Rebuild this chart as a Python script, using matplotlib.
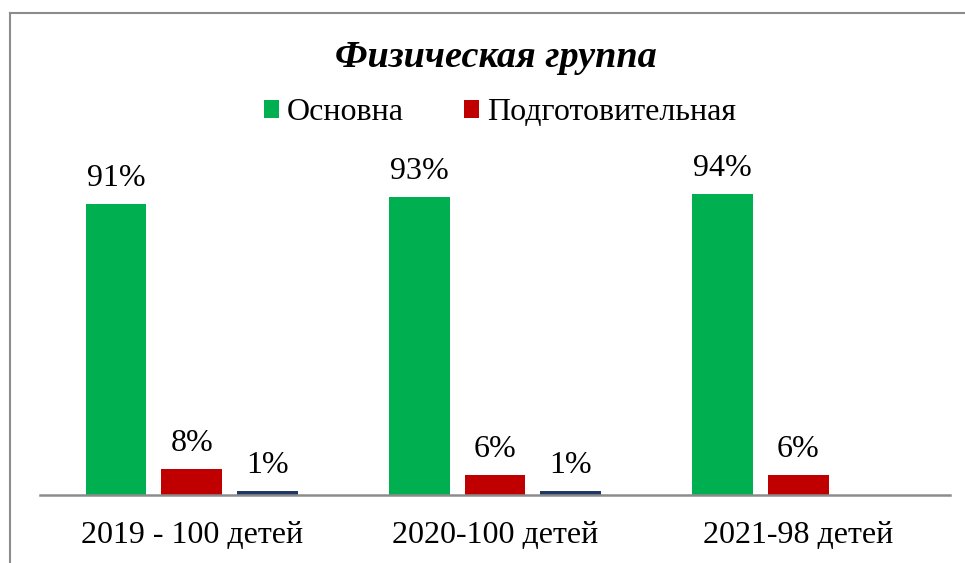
import numpy as np
import matplotlib
matplotlib.use("Agg")
import matplotlib.pyplot as plt
from matplotlib.patches import Patch
from matplotlib.lines import Line2D

# данные
categories = ["2019 - 100 детей", "2020-100 детей", "2021-98 детей"]
osnovnaya = [91, 93, 94]
podgot = [8, 6, 6]
specgroup = [1, 1, np.nan]

series_names = ["Основна", "Подготовительная"]
colors = ["#00B050", "#C00000", "#1F3864"]

plt.rcParams["font.family"] = ["Liberation Serif", "DejaVu Serif"]

W, H = 965, 563
fig = plt.figure(figsize=(W / 100, H / 100), dpi=100)
ax = fig.add_axes([40 / W, 1 - 494.5 / H, 910 / W, 354.5 / H])

x = np.arange(len(categories))
bw = 0.2
step = 0.25
data = [osnovnaya, podgot, specgroup]
for i, (vals, col) in enumerate(zip(data, colors)):
    bars = ax.bar(x + (i - 1) * step, vals, width=bw, color=col, zorder=2)
    ax.bar_label(bars, fmt=lambda v: f"{v:.0f}%", padding=8, fontsize=23)

ax.set_xlim(-0.5, 2.5)
ax.set_ylim(0, 111)
ax.set_xticks(x)
ax.set_xticklabels(categories, fontsize=23)
ax.tick_params(axis="x", length=0, pad=19)
ax.set_yticks([])
for s in ["top", "right", "left"]:
    ax.spines[s].set_visible(False)
ax.spines["bottom"].set_color("#8c8c8c")
ax.spines["bottom"].set_linewidth(1.8)

fig.text(496 / W, 1 - 58 / H, "Физическая группа", ha="center", va="center",
         fontsize=27.5, fontweight="bold", fontstyle="italic")

handles = [Patch(facecolor=c) for c in colors[:2]]
fig.legend(handles, series_names, loc="center", bbox_to_anchor=(500 / W, 1 - 113 / H),
           ncol=2, frameon=False, fontsize=23, handlelength=0.47, handleheight=0.47,
           handletextpad=0.25, columnspacing=1.9, borderaxespad=0)

# рамка диаграммы
fig.add_artist(Line2D([10 / W, 10 / W], [0, 1 - 12.5 / H], transform=fig.transFigure,
                      color="#8c8c8c", lw=1.5))
fig.add_artist(Line2D([10 / W, 1], [1 - 12.5 / H, 1 - 12.5 / H], transform=fig.transFigure,
                      color="#8c8c8c", lw=1.5))

fig.savefig("out.png", dpi=100)
